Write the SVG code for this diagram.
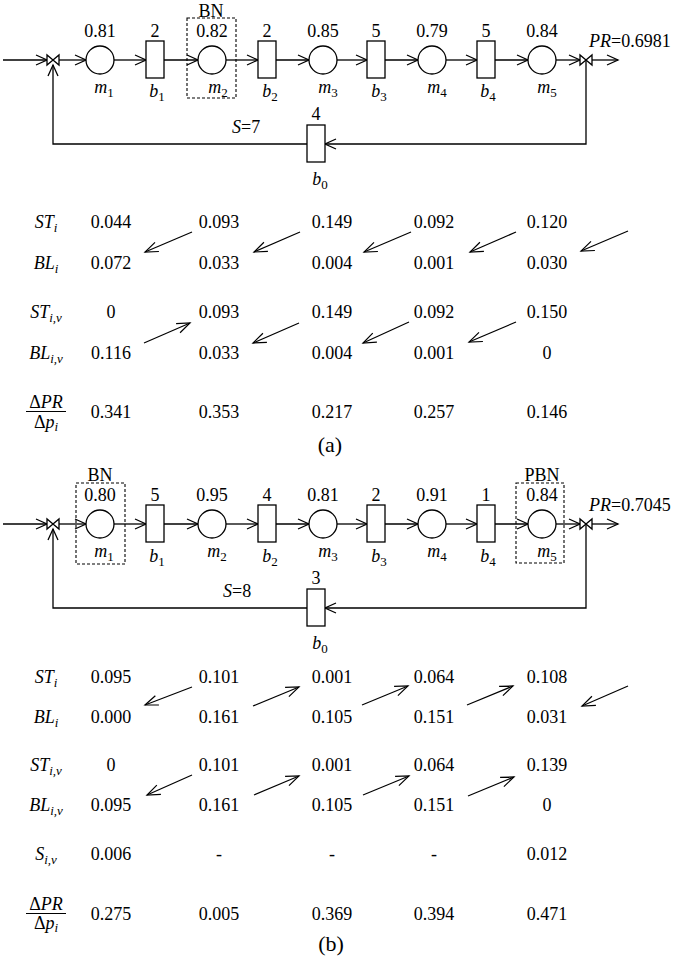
<svg xmlns="http://www.w3.org/2000/svg" width="674" height="958" viewBox="0 0 674 958">
<defs>
<style>
text { font-family: "Liberation Serif", "Times New Roman", serif; fill: #000; }
.v { font-size: 18px; text-anchor: middle; }
.cap { font-size: 22px; text-anchor: middle; }
.it { font-style: italic; }
.sub { font-size: 13px; }
.n { font-style: normal; font-size: 13px; }
.m { fill: #fff; stroke: #000; stroke-width: 1.3; }
.bn { fill: none; stroke: #000; stroke-width: 1.1; stroke-dasharray: 3 2; }
.c { fill: none; stroke: #000; stroke-width: 1.3; }
.ta { fill: none; stroke: #000; stroke-width: 1.2; }
</style>
<marker id="ah" markerUnits="userSpaceOnUse" markerWidth="14" markerHeight="12" refX="11" refY="5" orient="auto" overflow="visible">
<path d="M0,0 L11,5 L0,10" fill="none" stroke="#000" stroke-width="1.3"/>
</marker>
<marker id="tah" markerUnits="userSpaceOnUse" markerWidth="16" markerHeight="12" refX="13" refY="5" orient="auto" overflow="visible">
<path d="M0,0 L13,5 L0,10" fill="none" stroke="#000" stroke-width="1.2"/>
</marker>
</defs>
<rect width="674" height="958" fill="#fff"/>

<!-- ================= (a) ================= -->
<g id="a-connectors">
<path class="c" d="M3,60 H47" marker-end="url(#ah)"/>
<path class="c" d="M59,60 H86" marker-end="url(#ah)"/>
<path class="c" d="M114,60 H146" marker-end="url(#ah)"/>
<path class="c" d="M164,60 H198" marker-end="url(#ah)"/>
<path class="c" d="M226,60 H258" marker-end="url(#ah)"/>
<path class="c" d="M276,60 H309" marker-end="url(#ah)"/>
<path class="c" d="M337,60 H367" marker-end="url(#ah)"/>
<path class="c" d="M385,60 H418" marker-end="url(#ah)"/>
<path class="c" d="M446,60 H477" marker-end="url(#ah)"/>
<path class="c" d="M495,60 H528" marker-end="url(#ah)"/>
<path class="c" d="M556,60 H580" marker-end="url(#ah)"/>
<path class="c" d="M592,60 H618" marker-end="url(#ah)"/>
<path class="c" d="M586,60 V144 H325" marker-end="url(#ah)"/>
<path class="c" d="M307,144 H53 V65" marker-end="url(#ah)"/>
</g>
<g id="a-j-in"><polygon class="m" points="47,55 47,65 53,60"/><polygon class="m" points="59,55 59,65 53,60"/></g>
<g id="a-j-out"><polygon class="m" points="580,55 580,65 586,60"/><polygon class="m" points="592,55 592,65 586,60"/></g>
<g id="a-m1"><circle class="m" cx="100" cy="60" r="14"/><text class="v" x="100" y="37">0.81</text><text class="v it" x="104" y="93">m<tspan class="n" dy="4">1</tspan></text></g>
<g id="a-b1"><rect class="m" x="146" y="41" width="18" height="37"/><text class="v" x="155" y="37">2</text><text class="v it" x="157" y="97">b<tspan class="n" dy="4">1</tspan></text></g>
<g id="a-m2"><rect class="bn" x="187" y="18" width="49" height="80"/><text class="v" x="211" y="17">BN</text><circle class="m" cx="212" cy="60" r="14"/><text class="v" x="212" y="37">0.82</text><text class="v it" x="218" y="93">m<tspan class="n" dy="4">2</tspan></text></g>
<g id="a-b2"><rect class="m" x="258" y="41" width="18" height="37"/><text class="v" x="267" y="37">2</text><text class="v it" x="270" y="97">b<tspan class="n" dy="4">2</tspan></text></g>
<g id="a-m3"><circle class="m" cx="323" cy="60" r="14"/><text class="v" x="323" y="37">0.85</text><text class="v it" x="328" y="93">m<tspan class="n" dy="4">3</tspan></text></g>
<g id="a-b3"><rect class="m" x="367" y="41" width="18" height="37"/><text class="v" x="376" y="37">5</text><text class="v it" x="379" y="97">b<tspan class="n" dy="4">3</tspan></text></g>
<g id="a-m4"><circle class="m" cx="432" cy="60" r="14"/><text class="v" x="432" y="37">0.79</text><text class="v it" x="437" y="93">m<tspan class="n" dy="4">4</tspan></text></g>
<g id="a-b4"><rect class="m" x="477" y="41" width="18" height="37"/><text class="v" x="486" y="37">5</text><text class="v it" x="488" y="97">b<tspan class="n" dy="4">4</tspan></text></g>
<g id="a-m5"><circle class="m" cx="542" cy="60" r="14"/><text class="v" x="542" y="37">0.84</text><text class="v it" x="547" y="93">m<tspan class="n" dy="4">5</tspan></text></g>
<g id="a-b0"><rect class="m" x="307" y="125" width="18" height="37"/><text class="v" x="316" y="120">4</text><text class="v it" x="320" y="185">b<tspan class="n" dy="4">0</tspan></text></g>
<g id="a-labels">
<text x="589" y="47" font-size="18"><tspan class="it">PR</tspan>=0.6981</text>
<text x="232" y="133" font-size="18"><tspan class="it">S</tspan>=7</text>
</g>

<g id="a-table">
<text class="v" x="46" y="228"><tspan class="it">ST</tspan><tspan class="sub it" dy="4">i</tspan></text>
<text class="v" x="46" y="269"><tspan class="it">BL</tspan><tspan class="sub it" dy="4">i</tspan></text>
<text class="v" x="46" y="318"><tspan class="it">ST</tspan><tspan class="sub it" dy="4">i,v</tspan></text>
<text class="v" x="46" y="359"><tspan class="it">BL</tspan><tspan class="sub it" dy="4">i,v</tspan></text>
<text class="v" x="46" y="408">Δ<tspan class="it">PR</tspan></text>
<line x1="26" y1="411.5" x2="66" y2="411.5" stroke="#000" stroke-width="1.2"/>
<text class="v" x="46" y="428">Δ<tspan class="it">p</tspan><tspan class="sub it" dy="3">i</tspan></text>

<text class="v" x="111" y="228">0.044</text><text class="v" x="219" y="228">0.093</text><text class="v" x="332" y="228">0.149</text><text class="v" x="434" y="228">0.092</text><text class="v" x="547" y="228">0.120</text>
<text class="v" x="111" y="269">0.072</text><text class="v" x="219" y="269">0.033</text><text class="v" x="332" y="269">0.004</text><text class="v" x="434" y="269">0.001</text><text class="v" x="547" y="269">0.030</text>
<text class="v" x="111" y="318">0</text><text class="v" x="219" y="318">0.093</text><text class="v" x="332" y="318">0.149</text><text class="v" x="434" y="318">0.092</text><text class="v" x="547" y="318">0.150</text>
<text class="v" x="111" y="359">0.116</text><text class="v" x="219" y="359">0.033</text><text class="v" x="332" y="359">0.004</text><text class="v" x="434" y="359">0.001</text><text class="v" x="547" y="359">0</text>
<text class="v" x="111" y="418">0.341</text><text class="v" x="219" y="418">0.353</text><text class="v" x="332" y="418">0.217</text><text class="v" x="434" y="418">0.257</text><text class="v" x="547" y="418">0.146</text>
<text class="cap" x="330" y="452">(a)</text>
</g>
<g id="a-table-arrows">
<line class="ta" x1="192" y1="232" x2="145" y2="252" marker-end="url(#tah)"/>
<line class="ta" x1="300" y1="232" x2="254" y2="252" marker-end="url(#tah)"/>
<line class="ta" x1="411" y1="232" x2="364" y2="252" marker-end="url(#tah)"/>
<line class="ta" x1="516" y1="232" x2="470" y2="252" marker-end="url(#tah)"/>
<line class="ta" x1="628" y1="231" x2="581" y2="251" marker-end="url(#tah)"/>
<line class="ta" x1="144" y1="343" x2="190" y2="323" marker-end="url(#tah)"/>
<line class="ta" x1="299" y1="323" x2="253" y2="343" marker-end="url(#tah)"/>
<line class="ta" x1="409" y1="322" x2="363" y2="343" marker-end="url(#tah)"/>
<line class="ta" x1="516" y1="322" x2="469" y2="342" marker-end="url(#tah)"/>
</g>

<!-- ================= (b) ================= -->
<g id="b-connectors">
<path class="c" d="M3,524 H47" marker-end="url(#ah)"/>
<path class="c" d="M59,524 H86" marker-end="url(#ah)"/>
<path class="c" d="M114,524 H146" marker-end="url(#ah)"/>
<path class="c" d="M164,524 H198" marker-end="url(#ah)"/>
<path class="c" d="M226,524 H258" marker-end="url(#ah)"/>
<path class="c" d="M276,524 H309" marker-end="url(#ah)"/>
<path class="c" d="M337,524 H367" marker-end="url(#ah)"/>
<path class="c" d="M385,524 H418" marker-end="url(#ah)"/>
<path class="c" d="M446,524 H477" marker-end="url(#ah)"/>
<path class="c" d="M495,524 H528" marker-end="url(#ah)"/>
<path class="c" d="M556,524 H580" marker-end="url(#ah)"/>
<path class="c" d="M592,524 H618" marker-end="url(#ah)"/>
<path class="c" d="M586,524 V608 H325" marker-end="url(#ah)"/>
<path class="c" d="M307,608 H53 V529" marker-end="url(#ah)"/>
</g>
<g id="b-j-in"><polygon class="m" points="47,519 47,529 53,524"/><polygon class="m" points="59,519 59,529 53,524"/></g>
<g id="b-j-out"><polygon class="m" points="580,519 580,529 586,524"/><polygon class="m" points="592,519 592,529 586,524"/></g>
<g id="b-m1"><rect class="bn" x="76" y="483" width="49" height="81"/><text class="v" x="100" y="481">BN</text><circle class="m" cx="100" cy="524" r="14"/><text class="v" x="100" y="501">0.80</text><text class="v it" x="104" y="557">m<tspan class="n" dy="4">1</tspan></text></g>
<g id="b-b1"><rect class="m" x="146" y="505" width="18" height="37"/><text class="v" x="155" y="501">5</text><text class="v it" x="157" y="562">b<tspan class="n" dy="4">1</tspan></text></g>
<g id="b-m2"><circle class="m" cx="212" cy="524" r="14"/><text class="v" x="212" y="501">0.95</text><text class="v it" x="217" y="557">m<tspan class="n" dy="4">2</tspan></text></g>
<g id="b-b2"><rect class="m" x="258" y="505" width="18" height="37"/><text class="v" x="267" y="501">4</text><text class="v it" x="270" y="562">b<tspan class="n" dy="4">2</tspan></text></g>
<g id="b-m3"><circle class="m" cx="323" cy="524" r="14"/><text class="v" x="323" y="501">0.81</text><text class="v it" x="328" y="557">m<tspan class="n" dy="4">3</tspan></text></g>
<g id="b-b3"><rect class="m" x="367" y="505" width="18" height="37"/><text class="v" x="376" y="501">2</text><text class="v it" x="379" y="562">b<tspan class="n" dy="4">3</tspan></text></g>
<g id="b-m4"><circle class="m" cx="432" cy="524" r="14"/><text class="v" x="432" y="501">0.91</text><text class="v it" x="437" y="557">m<tspan class="n" dy="4">4</tspan></text></g>
<g id="b-b4"><rect class="m" x="477" y="505" width="18" height="37"/><text class="v" x="486" y="501">1</text><text class="v it" x="488" y="562">b<tspan class="n" dy="4">4</tspan></text></g>
<g id="b-m5"><rect class="bn" x="516" y="483" width="48" height="80"/><text class="v" x="542" y="481">PBN</text><circle class="m" cx="542" cy="524" r="14"/><text class="v" x="542" y="501">0.84</text><text class="v it" x="547" y="557">m<tspan class="n" dy="4">5</tspan></text></g>
<g id="b-b0"><rect class="m" x="307" y="589" width="18" height="37"/><text class="v" x="316" y="584">3</text><text class="v it" x="320" y="649">b<tspan class="n" dy="4">0</tspan></text></g>
<g id="b-labels">
<text x="589" y="511" font-size="18"><tspan class="it">PR</tspan>=0.7045</text>
<text x="223" y="597" font-size="18"><tspan class="it">S</tspan>=8</text>
</g>

<g id="b-table">
<text class="v" x="46" y="683"><tspan class="it">ST</tspan><tspan class="sub it" dy="4">i</tspan></text>
<text class="v" x="46" y="723"><tspan class="it">BL</tspan><tspan class="sub it" dy="4">i</tspan></text>
<text class="v" x="46" y="771"><tspan class="it">ST</tspan><tspan class="sub it" dy="4">i,v</tspan></text>
<text class="v" x="46" y="811"><tspan class="it">BL</tspan><tspan class="sub it" dy="4">i,v</tspan></text>
<text class="v" x="46" y="860"><tspan class="it">S</tspan><tspan class="sub it" dy="4">i,v</tspan></text>
<text class="v" x="46" y="910">Δ<tspan class="it">PR</tspan></text>
<line x1="26" y1="913.5" x2="66" y2="913.5" stroke="#000" stroke-width="1.2"/>
<text class="v" x="46" y="929">Δ<tspan class="it">p</tspan><tspan class="sub it" dy="3">i</tspan></text>

<text class="v" x="111" y="683">0.095</text><text class="v" x="219" y="683">0.101</text><text class="v" x="332" y="683">0.001</text><text class="v" x="434" y="683">0.064</text><text class="v" x="547" y="683">0.108</text>
<text class="v" x="111" y="723">0.000</text><text class="v" x="219" y="723">0.161</text><text class="v" x="332" y="723">0.105</text><text class="v" x="434" y="723">0.151</text><text class="v" x="547" y="723">0.031</text>
<text class="v" x="111" y="771">0</text><text class="v" x="219" y="771">0.101</text><text class="v" x="332" y="771">0.001</text><text class="v" x="434" y="771">0.064</text><text class="v" x="547" y="771">0.139</text>
<text class="v" x="111" y="811">0.095</text><text class="v" x="219" y="811">0.161</text><text class="v" x="332" y="811">0.105</text><text class="v" x="434" y="811">0.151</text><text class="v" x="547" y="811">0</text>
<text class="v" x="111" y="860">0.006</text><text class="v" x="219" y="860">-</text><text class="v" x="332" y="860">-</text><text class="v" x="434" y="860">-</text><text class="v" x="547" y="860">0.012</text>
<text class="v" x="111" y="920">0.275</text><text class="v" x="219" y="920">0.005</text><text class="v" x="332" y="920">0.369</text><text class="v" x="434" y="920">0.394</text><text class="v" x="547" y="920">0.471</text>
<text class="cap" x="331" y="951">(b)</text>
</g>
<g id="b-table-arrows">
<line class="ta" x1="192" y1="687" x2="145" y2="705" marker-end="url(#tah)"/>
<line class="ta" x1="253" y1="706" x2="299" y2="687" marker-end="url(#tah)"/>
<line class="ta" x1="362" y1="705" x2="408" y2="686" marker-end="url(#tah)"/>
<line class="ta" x1="467" y1="705" x2="513" y2="686" marker-end="url(#tah)"/>
<line class="ta" x1="628" y1="686" x2="582" y2="706" marker-end="url(#tah)"/>
<line class="ta" x1="192" y1="775" x2="147" y2="795" marker-end="url(#tah)"/>
<line class="ta" x1="254" y1="795" x2="299" y2="776" marker-end="url(#tah)"/>
<line class="ta" x1="363" y1="795" x2="409" y2="776" marker-end="url(#tah)"/>
<line class="ta" x1="468" y1="796" x2="514" y2="777" marker-end="url(#tah)"/>
</g>
</svg>
